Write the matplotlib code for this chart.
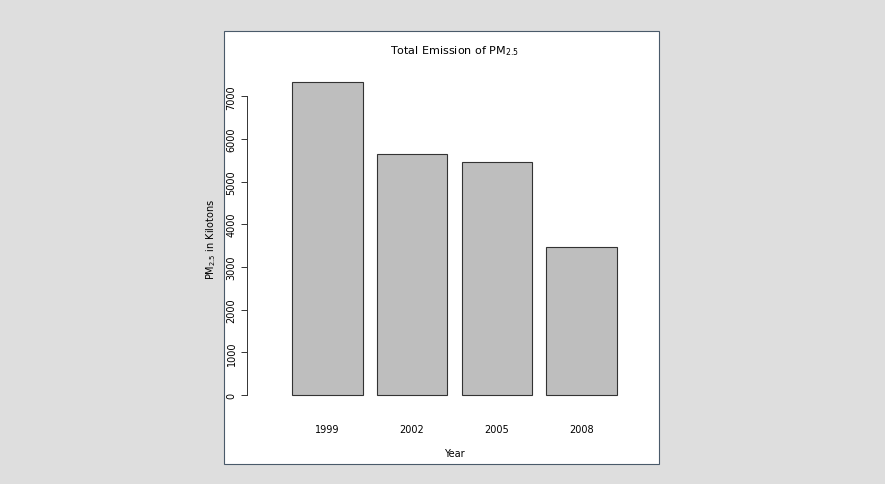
import matplotlib
matplotlib.use("Agg")
import matplotlib.pyplot as plt
from matplotlib.patches import Rectangle

years = ["1999", "2002", "2005", "2008"]
emissions = [7332.0, 5635.8, 5454.7, 3464.2]
yticks = [0, 1000, 2000, 3000, 4000, 5000, 6000, 7000]

fig = plt.figure(figsize=(8.85, 4.85), dpi=100)
fig.patch.set_facecolor("#dedede")
fig.add_artist(Rectangle((224/885, 20/485), 435/885, 433/485, transform=fig.transFigure,
                         facecolor="white", edgecolor="#4a5a6a", linewidth=0.8, zorder=0))

ax = fig.add_axes([279/885, (485-408.5)/485, 351/885, 338/485])
ax.set_facecolor("none")
pos = [0.7 + 1.2*i for i in range(len(years))]
ax.bar(pos, emissions, width=1.0, color="#bebebe", edgecolor="#333333", linewidth=0.8)
ax.set_xlim(0.016, 4.984)
ymax = max(emissions)
ax.set_ylim(-0.04*ymax, 1.04*ymax)
for s in ["top", "right", "bottom"]:
    ax.spines[s].set_visible(False)
ax.spines["left"].set_position(("outward", 23))
ax.spines["left"].set_bounds(0, 7000)
ax.spines["left"].set_color("#333333")
ax.spines["left"].set_linewidth(0.7)
ax.set_yticks(yticks)
ax.set_yticklabels([str(v) for v in yticks], rotation=90, va="center", fontsize=7)
ax.tick_params(axis="y", length=4, width=0.7, color="#333333")
ax.set_xticks(pos)
ax.set_xticklabels(years, fontsize=7)
ax.tick_params(axis="x", length=0, pad=12)
ax.set_title("Total Emission of PM$_{2.5}$", fontsize=8, pad=12)
ax.set_xlabel("Year", fontsize=7, labelpad=10)
ax.set_ylabel("PM$_{2.5}$ in Kilotons", fontsize=7, labelpad=6)
fig.savefig("out.png", dpi=100, facecolor=fig.get_facecolor())
